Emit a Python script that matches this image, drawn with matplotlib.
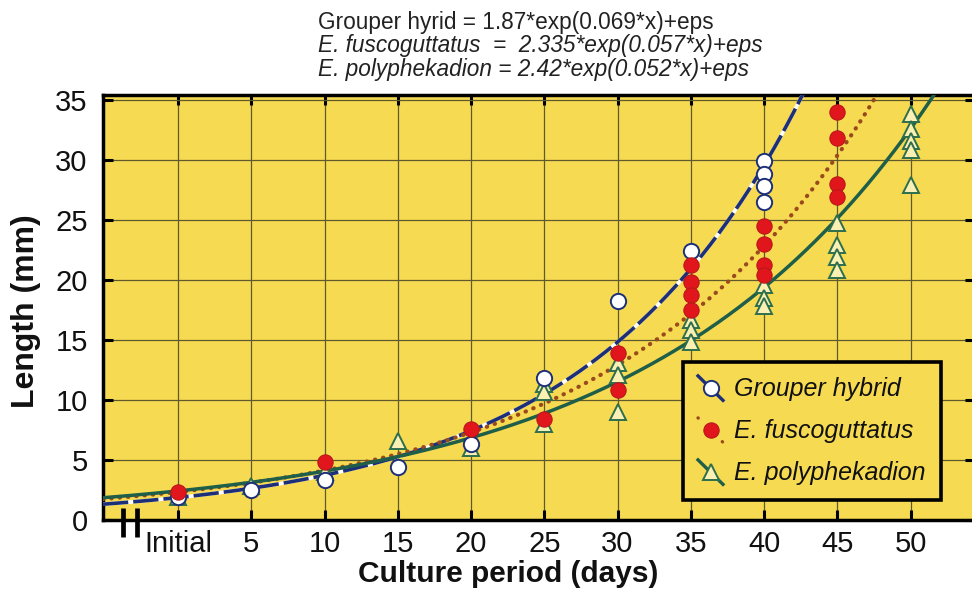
import numpy as np
import matplotlib
matplotlib.use("Agg")
import matplotlib.pyplot as plt
from matplotlib.lines import Line2D
from matplotlib.legend_handler import HandlerBase

plt.rcParams['font.family'] = ['Liberation Sans', 'DejaVu Sans']

# ---- data ----
x_ticks = [0, 5, 10, 15, 20, 25, 30, 35, 40, 45, 50]
x_tick_labels = ['Initial', '5', '10', '15', '20', '25', '30', '35', '40', '45', '50']
y_ticks = [0, 5, 10, 15, 20, 25, 30, 35]

hybrid_x = [0, 5, 10, 15, 20, 25, 30, 35, 40, 40, 40, 40]
hybrid_y = [1.9, 2.5, 3.3, 4.4, 6.3, 11.8, 18.2, 22.4, 29.9, 28.8, 27.8, 26.5]

fusco_x = [0, 10, 20, 25, 30, 30, 35, 35, 35, 35, 40, 40, 40, 40, 45, 45, 45, 45]
fusco_y = [2.3, 4.8, 7.6, 8.4, 13.9, 10.8, 21.2, 19.8, 18.7, 17.5,
           24.5, 23.0, 21.2, 20.4, 34.0, 31.8, 28.0, 26.9]

poly_x = [0, 5, 10, 15, 20, 25, 25, 25, 30, 30, 30, 35, 35, 35, 40, 40, 40,
          45, 45, 45, 45, 50, 50, 50, 50, 50]
poly_y = [1.9, 2.8, 4.0, 6.6, 6.0, 11.3, 10.7, 8.0, 13.1, 12.1, 9.0,
          16.7, 15.8, 14.8, 19.6, 18.5, 17.8, 24.7, 22.9, 21.9, 20.8,
          33.8, 32.6, 31.6, 30.8, 27.9]

# fitted model parameters (y = a*exp(b*x)) as printed on the chart
model_names = ['Grouper hybrid', 'E. fuscoguttatus', 'E. polyphekadion']
model_a = [1.87, 2.335, 2.42]
model_b = [0.069, 0.057, 0.052]

# ---- styling ----
BG = '#F6DB52'
GRID = '#5F5A2C'
NAVY = '#1C2F78'
BROWN = '#9A4A1C'
GREEN = '#1F5E48'
RED = '#E0161C'

W, H = 972, 594
fig = plt.figure(figsize=(W / 100, H / 100), dpi=100)
fig.patch.set_facecolor('white')

ax_l, ax_r, ax_t, ax_b = 103, 975, 95, 520
ax = fig.add_axes([ax_l / W, 1 - ax_b / H, (ax_r - ax_l) / W, (ax_b - ax_t) / H])
ax.set_facecolor(BG)

ax.set_xlim(-5.12, 54.4)
ax.set_ylim(0, 35.4)

ax.set_xticks(x_ticks)
ax.set_xticklabels(x_tick_labels)
ax.set_yticks(y_ticks)
ax.grid(True, color=GRID, lw=0.9)
ax.set_axisbelow(True)

ax.tick_params(axis='both', direction='in', length=7, width=2.2, color='black',
               labelsize=21, top=True, right=True, labelcolor='#111111')
ax.tick_params(axis='x', pad=7)
ax.tick_params(axis='y', pad=11)
for s in ['left', 'top', 'bottom', 'right']:
    ax.spines[s].set_linewidth(2.5)
    ax.spines[s].set_color('black')

# fitted curves
xs = np.linspace(-5.12, 54.4, 400)
curve_y = [a * np.exp(b * xs) for a, b in zip(model_a, model_b)]
ax.plot(xs, curve_y[0], color='white', lw=2.6, zorder=3, solid_capstyle='butt')
ax.plot(xs, curve_y[0], color=NAVY, lw=2.6, ls=(0, (7, 1.4)), zorder=3.1)
ax.plot(xs, curve_y[1], color=BROWN, lw=3.0, ls=(0, (0.1, 1.9)),
        dash_capstyle='round', zorder=3.2)
ax.plot(xs, curve_y[2], color=GREEN, lw=2.5, zorder=3.3)

# markers
ax.plot(poly_x, poly_y, ls='none', marker='^', ms=11, mfc='#FAF0B4',
        mec='#2D6E4E', mew=1.4, zorder=4)
ax.plot(fusco_x, fusco_y, ls='none', marker='o', ms=11, mfc=RED,
        mec='#B8181A', mew=0.8, zorder=4.2)
ax.plot(hybrid_x, hybrid_y, ls='none', marker='o', ms=11, mfc='white',
        mec=NAVY, mew=1.4, zorder=4.1)

# axis break marks
for bx in [-3.75, -2.8]:
    ax.plot([bx, bx], [1.0, -1.45], color='black', lw=3.4, clip_on=False,
            zorder=6, solid_capstyle='butt')

# labels
fig.text(508 / W, 1 - 582 / H, 'Culture period (days)', ha='center',
         va='baseline', fontsize=21.5, fontweight='bold', color='#111111')
fig.text(26 / W, 1 - 311 / H, 'Length (mm)', ha='center', va='center',
         rotation=90, fontsize=23, fontweight='bold', color='#111111')

# equations
fig.text(318 / W, 1 - 29 / H, 'Grouper hyrid = 1.87*exp(0.069*x)+eps',
         ha='left', va='baseline', fontsize=16.3, color='#222222')
fig.text(318 / W, 1 - 52 / H, 'E. fuscoguttatus  =  2.335*exp(0.057*x)+eps',
         ha='left', va='baseline', fontsize=16.3, style='italic', color='#222222')
fig.text(318 / W, 1 - 76 / H, 'E. polyphekadion = 2.42*exp(0.052*x)+eps',
         ha='left', va='baseline', fontsize=16.3, style='italic', color='#222222')


# legend with diagonal handles
class DiagHandler(HandlerBase):
    def __init__(self, line_kw, marker_kw):
        super().__init__()
        self.line_kw = line_kw
        self.marker_kw = marker_kw

    def create_artists(self, legend, orig_handle, xdescent, ydescent, width,
                       height, fontsize, trans):
        x0, x1 = -xdescent, -xdescent + width
        y0, y1 = -ydescent - 0.25 * height, -ydescent + 1.15 * height
        ln = Line2D([x0, x1], [y1, y0], transform=trans, **self.line_kw)
        mk = Line2D([(x0 + x1) / 2], [(y0 + y1) / 2], ls='none',
                    transform=trans, **self.marker_kw)
        return [ln, mk]


class H1: pass
class H2: pass
class H3: pass

handles = [H1(), H2(), H3()]
handler_map = {
    H1: DiagHandler(dict(color=NAVY, lw=2.4),
                    dict(marker='o', ms=11, mfc='white', mec=NAVY, mew=1.4)),
    H2: DiagHandler(dict(color=BROWN, lw=2.4, ls=(0, (0.1, 5)), dash_capstyle='round'),
                    dict(marker='o', ms=11, mfc=RED, mec='#B8181A', mew=0.8)),
    H3: DiagHandler(dict(color=GREEN, lw=2.4),
                    dict(marker='^', ms=11, mfc='#FAF0B4', mec='#2D6E4E', mew=1.4)),
}
leg = fig.legend(handles, model_names, handler_map=handler_map,
                 loc='upper left', bbox_to_anchor=(683 / W, 1 - 362 / H),
                 bbox_transform=fig.transFigure,
                 prop={'size': 18, 'style': 'italic'}, frameon=True,
                 fancybox=False, handlelength=1.0, handletextpad=0.45,
                 labelspacing=0.72, borderpad=0.6, borderaxespad=0)
leg.get_frame().set_facecolor(BG)
leg.get_frame().set_edgecolor('black')
leg.get_frame().set_linewidth(2.6)
leg.get_frame().set_alpha(1)
for t in leg.get_texts():
    t.set_color('#111111')

fig.savefig('out.png', dpi=100, facecolor='white')
